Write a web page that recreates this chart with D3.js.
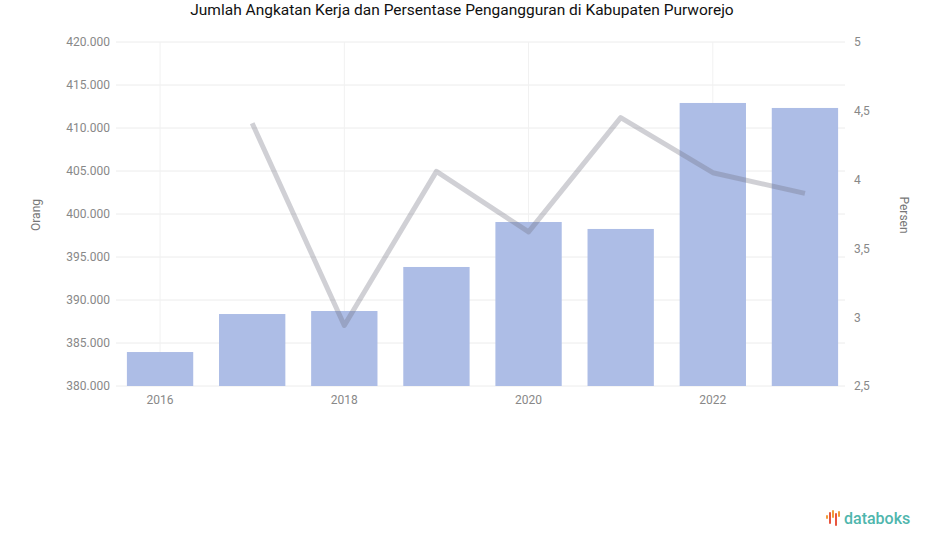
<!DOCTYPE html>
<html><head><meta charset="utf-8">
<script src="https://cdn.jsdelivr.net/npm/d3@7"></script>
<style>body{margin:0;background:#fff;font-family:Roboto,"Open Sans",sans-serif;}</style>
</head><body><svg id="c" width="925" height="547"></svg>
<script>
const years = ["2016","2017","2018","2019","2020","2021","2022","2023"];
const angkatanKerja = [383950, 388370, 388720, 393840, 399070, 398260, 412910, 412330];
const pengangguran = [null, 4.41, 2.94, 4.06, 3.62, 4.45, 4.05, 3.90];
const leftTicks = [380000,385000,390000,395000,400000,405000,410000,415000,420000];
const rightTicks = [2.5,3,3.5,4,4.5,5];
const xLabels = ["2016","2018","2020","2022"];

const svg = d3.select("#c");
const plotTop = 42, plotBottom = 386;
const x = d3.scaleBand().domain(years).range([114, 851]).paddingInner(0.28).paddingOuter(0.14);
const yL = d3.scaleLinear().domain([380000, 420000]).range([plotBottom, plotTop]);
const yR = d3.scaleLinear().domain([2.5, 5]).range([plotBottom, plotTop]);
const fmtL = d3.format(",");
const idFmt = v => fmtL(v).replace(/,/g, ".");
const idDec = v => String(v).replace(".", ",");

svg.append("text").attr("x", 462).attr("y", 15).attr("text-anchor","middle")
  .attr("font-size", 15.5).attr("fill", "#111").text("Jumlah Angkatan Kerja dan Persentase Pengangguran di Kabupaten Purworejo");

// grid
svg.append("g").selectAll("line").data(leftTicks).join("line")
  .attr("x1", 116).attr("x2", 845).attr("y1", d => yL(d)).attr("y2", d => yL(d))
  .attr("stroke", "#ececec").attr("stroke-width", 1);
svg.append("g").selectAll("line").data(xLabels).join("line")
  .attr("x1", d => x(d) + x.bandwidth()/2).attr("x2", d => x(d) + x.bandwidth()/2)
  .attr("y1", plotTop).attr("y2", plotBottom).attr("stroke", "#f1f1f1");

// left axis
const gl = svg.append("g").attr("transform", "translate(110,0)")
  .call(d3.axisLeft(yL).tickValues(leftTicks).tickFormat(idFmt).tickSize(0).tickPadding(0));
gl.select(".domain").remove();
gl.selectAll("text").attr("font-size", 12).attr("fill", "#888").attr("font-family","Roboto,sans-serif");

// right axis
const gr = svg.append("g").attr("transform", "translate(854,0)")
  .call(d3.axisRight(yR).tickValues(rightTicks).tickFormat(idDec).tickSize(0).tickPadding(0));
gr.select(".domain").remove();
gr.selectAll("text").attr("font-size", 12).attr("fill", "#888").attr("font-family","Roboto,sans-serif");

// x axis
const gx = svg.append("g").attr("transform", `translate(0,${plotBottom})`)
  .call(d3.axisBottom(x).tickValues(xLabels).tickSize(0).tickPadding(9));
gx.select(".domain").remove();
gx.selectAll("text").attr("font-size", 12).attr("fill", "#888").attr("font-family","Roboto,sans-serif");

// axis titles
svg.append("text").attr("transform", "translate(40,215) rotate(-90)").attr("text-anchor","middle")
  .attr("font-size", 12).attr("fill", "#777").text("Orang");
svg.append("text").attr("transform", "translate(900,215) rotate(90)").attr("text-anchor","middle")
  .attr("font-size", 12).attr("fill", "#777").text("Persen");

// bars
svg.append("g").selectAll("rect").data(years).join("rect")
  .attr("x", d => x(d)).attr("width", x.bandwidth())
  .attr("y", (d,i) => yL(angkatanKerja[i])).attr("height", (d,i) => plotBottom - yL(angkatanKerja[i]))
  .attr("fill", "#adbde6");

// line
const pts = years.map((d,i) => ({d, v: pengangguran[i]})).filter(p => p.v != null);
svg.append("path").datum(pts)
  .attr("d", d3.line().x(p => x(p.d) + x.bandwidth()/2).y(p => yR(p.v)))
  .attr("fill","none").attr("stroke","rgba(110,110,125,0.32)").attr("stroke-width", 5)
  .attr("stroke-linejoin","round");

// databoks logo
const lg = svg.append("g").attr("transform","translate(826,510)");
const logoBars = [[0,5,4],[3,2,12],[6,0,8],[9,3,13],[12,1,6]];
lg.selectAll("rect").data(logoBars).join("rect")
  .attr("x", b => b[0]).attr("y", b => b[1]).attr("width", 2).attr("height", b => b[2]).attr("rx",1)
  .attr("fill", (b,i) => i%2 ? "#e8553e" : "#f29b38");
svg.append("text").attr("x", 844).attr("y", 524).attr("font-size", 16).attr("font-weight", 500)
  .attr("fill", "#4fb6ad").attr("font-family","Roboto,sans-serif").text("databoks");
</script></body></html>
